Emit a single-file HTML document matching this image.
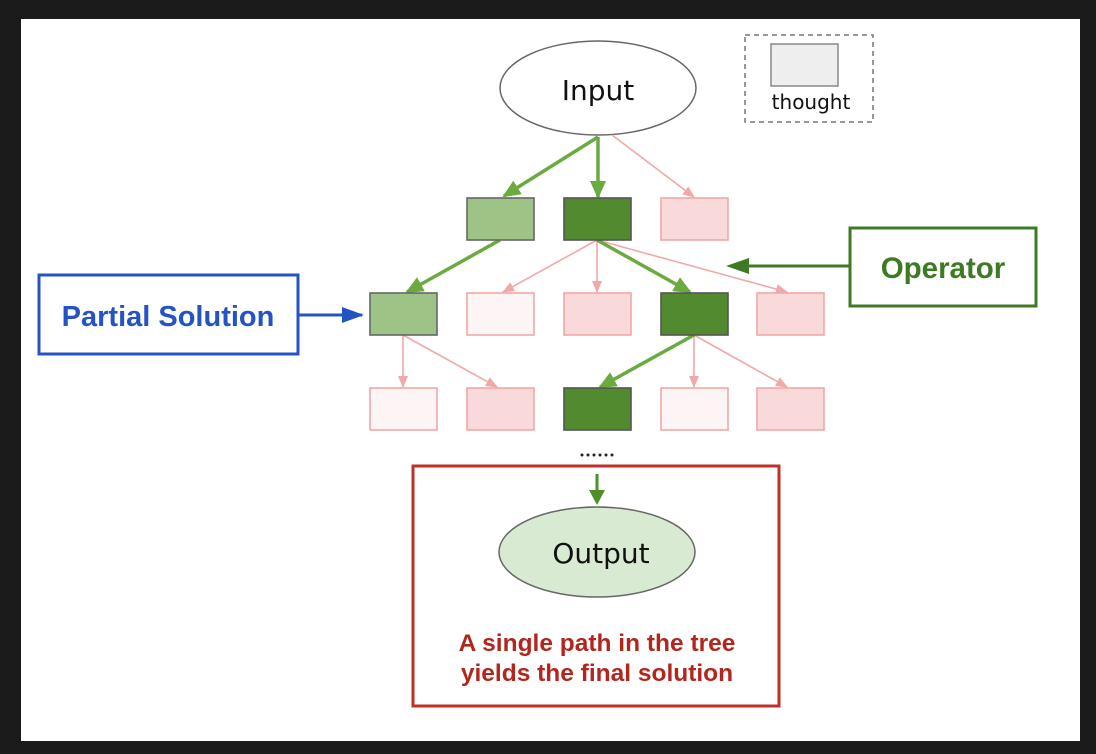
<!DOCTYPE html>
<html><head><meta charset="utf-8"><style>
html,body{margin:0;padding:0;background:#1b1b1b;}
svg{display:block;}
</style></head><body>
<svg width="1096" height="754" viewBox="0 0 1096 754" xmlns="http://www.w3.org/2000/svg">
<defs>
<marker id="gl" markerWidth="18" markerHeight="16" refX="16" refY="8" orient="auto" markerUnits="userSpaceOnUse"><path d="M0,0 L18,8 L0,16 z" fill="#6aaa3e"/></marker>
<marker id="p" markerWidth="12" markerHeight="10" refX="11" refY="5" orient="auto" markerUnits="userSpaceOnUse"><path d="M0,0 L12,5 L0,10 z" fill="#f0a8a8"/></marker>
<marker id="bl" markerWidth="22" markerHeight="16" refX="20" refY="8" orient="auto" markerUnits="userSpaceOnUse"><path d="M0,0 L22,8 L0,16 z" fill="#2453c4"/></marker>
</defs>
<rect x="21" y="19" width="1059" height="722" fill="#fff"/>
<rect x="745" y="35" width="128" height="87" fill="none" stroke="#777" stroke-width="1.5" stroke-dasharray="5,4"/>
<rect x="771" y="44" width="67" height="42" fill="#eee" stroke="#888" stroke-width="1.5"/>
<text x="811" y="109" font-family="DejaVu Sans, sans-serif" font-size="20" text-anchor="middle" fill="#111">thought</text>
<ellipse cx="598" cy="88" rx="98" ry="47" fill="#fff" stroke="#666" stroke-width="1.5"/>
<text x="598" y="100" font-family="DejaVu Sans, sans-serif" font-size="28" text-anchor="middle" fill="#111">Input</text>
<g stroke="#f0a8a8" stroke-width="1.6" fill="none" marker-end="url(#p)">
<line x1="612" y1="135" x2="694" y2="197"/>
<line x1="597" y1="240" x2="503" y2="292"/>
<line x1="597" y1="240" x2="597" y2="292"/>
<line x1="597" y1="240" x2="787" y2="292"/>
<line x1="403" y1="335" x2="403" y2="387"/>
<line x1="403" y1="335" x2="497" y2="387"/>
<line x1="694" y1="335" x2="694" y2="387"/>
<line x1="694" y1="335" x2="787" y2="387"/>
</g>
<g stroke="#6aaa3e" stroke-width="3.5" fill="none" marker-end="url(#gl)">
<line x1="598" y1="137" x2="504" y2="196"/>
<line x1="598" y1="137" x2="598" y2="197"/>
<line x1="500" y1="240" x2="407" y2="292"/>
<line x1="597" y1="240" x2="690" y2="292"/>
<line x1="694" y1="335" x2="600" y2="387"/>
</g>
<g stroke-width="1.6">
<rect x="467" y="198" width="67" height="42" fill="#9dc386" stroke="#666"/>
<rect x="564" y="198" width="67" height="42" fill="#528b2f" stroke="#555"/>
<rect x="661" y="198" width="67" height="42" fill="#f9d9da" stroke="#f0a8a8"/>
<rect x="370" y="293" width="67" height="42" fill="#9dc386" stroke="#666"/>
<rect x="467" y="293" width="67" height="42" fill="#fdf5f5" stroke="#f0a8a8"/>
<rect x="564" y="293" width="67" height="42" fill="#f9d9da" stroke="#f0a8a8"/>
<rect x="661" y="293" width="67" height="42" fill="#528b2f" stroke="#555"/>
<rect x="757" y="293" width="67" height="42" fill="#f9d9da" stroke="#f0a8a8"/>
<rect x="370" y="388" width="67" height="42" fill="#fdf5f5" stroke="#f0a8a8"/>
<rect x="467" y="388" width="67" height="42" fill="#f9d9da" stroke="#f0a8a8"/>
<rect x="564" y="388" width="67" height="42" fill="#528b2f" stroke="#555"/>
<rect x="661" y="388" width="67" height="42" fill="#fdf5f5" stroke="#f0a8a8"/>
<rect x="757" y="388" width="67" height="42" fill="#f9d9da" stroke="#f0a8a8"/>
</g>
<g fill="#222"><circle cx="582" cy="455" r="1.5"/><circle cx="588" cy="455" r="1.5"/><circle cx="594" cy="455" r="1.5"/><circle cx="600" cy="455" r="1.5"/><circle cx="606" cy="455" r="1.5"/><circle cx="612" cy="455" r="1.5"/></g>
<rect x="413" y="466" width="366" height="240" fill="none" stroke="#c0302b" stroke-width="3"/>
<line x1="597" y1="474" x2="597" y2="492" stroke="#4f8f2a" stroke-width="3"/>
<path d="M589,490 L605,490 L597,505 z" fill="#4f8f2a"/>
<ellipse cx="597" cy="552" rx="98" ry="45" fill="#d9ead3" stroke="#666" stroke-width="1.5"/>
<text x="601" y="563" font-family="DejaVu Sans, sans-serif" font-size="28" text-anchor="middle" fill="#111">Output</text>
<text x="597" y="651" font-family="Liberation Sans, sans-serif" font-weight="bold" font-size="24.5" text-anchor="middle" fill="#b3261e">A single path in the tree</text>
<text x="597" y="681" font-family="Liberation Sans, sans-serif" font-weight="bold" font-size="24.5" text-anchor="middle" fill="#b3261e">yields the final solution</text>
<rect x="39" y="275" width="259" height="79" fill="#fff" stroke="#2453c4" stroke-width="3"/>
<text x="168" y="326" font-family="Liberation Sans, sans-serif" font-weight="bold" font-size="29" text-anchor="middle" fill="#2453c4">Partial Solution</text>
<line x1="298" y1="315" x2="362" y2="315" stroke="#2453c4" stroke-width="3" marker-end="url(#bl)"/>
<rect x="850" y="228" width="186" height="78" fill="#fff" stroke="#3d7a24" stroke-width="3"/>
<text x="943" y="278" font-family="Liberation Sans, sans-serif" font-weight="bold" font-size="29.5" text-anchor="middle" fill="#3d7a24">Operator</text>
<line x1="850" y1="266" x2="748" y2="266" stroke="#3d7a24" stroke-width="3"/>
<path d="M726,266 L749,258 L749,274 z" fill="#3d7a24"/>
</svg>
</body></html>
